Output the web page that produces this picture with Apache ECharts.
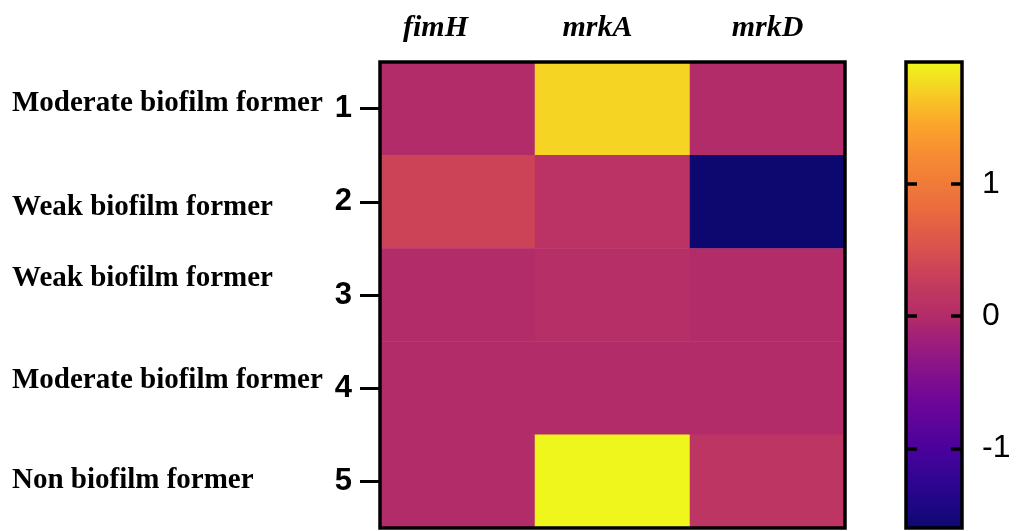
<!DOCTYPE html>
<html>
<head>
<meta charset="utf-8">
<script src="https://cdn.jsdelivr.net/npm/echarts@6/dist/echarts.min.js"></script>
<style>html,body{margin:0;padding:0;background:#fff;}#c{width:1016px;height:531px;}</style>
</head>
<body>
<div id="c"></div>
<script>
// ---- data ----
var genes = ['fimH', 'mrkA', 'mrkD'];
var isolates = ['1', '2', '3', '4', '5'];
var groups = ['Moderate biofilm former', 'Weak biofilm former', 'Weak biofilm former', 'Moderate biofilm former', 'Non biofilm former'];
var fimH = [0.0, 0.35, 0.0, 0.0, 0.0];
var mrkA = [1.72, 0.12, 0.05, 0.0, 1.92];
var mrkD = [0.0, -1.6, 0.0, 0.0, 0.15];
var scaleMin = -1.6, scaleMax = 1.92;
var colorTicks = [-1, 0, 1];

// ---- colour ramp (style) ----
var stops = [
  [-1.6, '#0d0870'], [-1.45, '#1c0782'], [-1.28, '#2c0590'], [-1.0, '#4a029c'], [-0.64, '#6e0698'],
  [-0.36, '#8b1488'], [-0.1, '#a82472'], [0, '#b32c69'], [0.26, '#c43c5e'],
  [0.5, '#d9504f'], [0.8, '#ea6a3e'], [1.2, '#f68a33'], [1.45, '#fba52c'],
  [1.7, '#f6d024'], [1.92, '#eef61c']
];
function hex2rgb(h){return [parseInt(h.substr(1,2),16),parseInt(h.substr(3,2),16),parseInt(h.substr(5,2),16)];}
function colorAt(v){
  for (var i=0;i<stops.length-1;i++){
    if (v<=stops[i+1][0]){
      var t=(v-stops[i][0])/(stops[i+1][0]-stops[i][0]);
      var a=hex2rgb(stops[i][1]), b=hex2rgb(stops[i+1][1]);
      return 'rgb('+[0,1,2].map(function(k){return Math.round(a[k]+(b[k]-a[k])*t);}).join(',')+')';
    }
  }
  return stops[stops.length-1][1];
}
var ramp=[]; var N=80;
for (var i=0;i<=N;i++){ramp.push(colorAt(scaleMin+(scaleMax-scaleMin)*i/N));}

var data=[];
var cols=[fimH,mrkA,mrkD];
cols.forEach(function(arr,x){arr.forEach(function(v,y){data.push([x,y,v]);});});

// per-label vertical nudges for group names (px)
var nameShift=[-5,6,-16,-8,-1];
var rich={};
nameShift.forEach(function(d,i){
  rich['g'+i]={fontFamily:'Liberation Serif',fontWeight:'bold',fontSize:29,color:'#000',
    padding:d>=0?[2*d,0,0,0]:[0,0,-2*d,0]};
});
var geneShift=[-22,-15,0];
var grich={};
geneShift.forEach(function(d,i){
  grich['c'+i]={fontFamily:'Liberation Serif',fontWeight:'bold',fontStyle:'italic',fontSize:30,color:'#000',
    padding:[0,-2*d,0,0]};
});

var tickStyle={color:'#000',width:3.5};
var chart=echarts.init(document.getElementById('c'));
chart.setOption({
  animation:false,
  backgroundColor:'#fff',
  grid:[
    {left:380,top:62,width:465,height:466,show:true,borderColor:'#000',borderWidth:3.5,z:10,backgroundColor:'transparent'},
    {left:906,top:62,width:56,height:466,show:true,borderColor:'#000',borderWidth:3.5,z:10,backgroundColor:'transparent'}
  ],
  xAxis:[
    {type:'category',data:genes,gridIndex:0,position:'top',
     axisLine:{show:false},axisTick:{show:false},splitLine:{show:false},
     axisLabel:{margin:19,formatter:function(v,i){return '{c'+i+'|'+v+'}';},rich:grich}},
    {type:'value',gridIndex:1,show:false,min:0,max:1}
  ],
  yAxis:[
    {type:'category',data:isolates,gridIndex:0,inverse:true,position:'left',
     axisLine:{show:false},
     axisTick:{show:true,alignWithLabel:true,length:20,lineStyle:{color:'#000',width:3}},
     axisLabel:{margin:28,fontFamily:'Liberation Sans',fontWeight:'bold',fontSize:31,color:'#000'},
     splitLine:{show:false}},
    {type:'category',data:groups,gridIndex:0,inverse:true,position:'left',
     axisLine:{show:false},axisTick:{show:false},splitLine:{show:false},
     axisLabel:{margin:368,align:'left',formatter:function(v,i){return '{g'+i+'|'+v+'}';},rich:rich}},
    // colour bar: labels on the right
    {type:'value',gridIndex:1,position:'right',min:scaleMin,max:scaleMax,z:20,
     axisLine:{show:false},splitLine:{show:false},axisTick:{show:false},
     axisLabel:{show:true,margin:20,customValues:colorTicks,fontFamily:'Liberation Sans',fontSize:32,color:'#000'}},
    // colour bar: inner ticks on the left edge
    {type:'value',gridIndex:1,position:'left',min:scaleMin,max:scaleMax,z:20,
     axisLine:{show:false},splitLine:{show:false},
     axisTick:{show:true,inside:true,length:11,customValues:colorTicks,lineStyle:tickStyle},
     axisLabel:{show:false}},
    // colour bar: inner ticks on the right edge (left-type axis shifted onto the right edge)
    {type:'value',gridIndex:1,position:'left',offset:-56,min:scaleMin,max:scaleMax,z:20,
     axisLine:{show:false},splitLine:{show:false},
     axisTick:{show:true,inside:false,length:11,customValues:colorTicks,lineStyle:tickStyle},
     axisLabel:{show:false}}
  ],
  visualMap:{
    type:'continuous',min:scaleMin,max:scaleMax,seriesIndex:0,calculable:false,
    orient:'vertical',left:906,top:62,itemWidth:56,itemHeight:466,padding:0,z:2,
    showLabel:false,inRange:{color:ramp}
  },
  series:[{
    type:'heatmap',xAxisIndex:0,yAxisIndex:0,data:data,
    itemStyle:{borderWidth:0},emphasis:{disabled:true}
  }]
});
</script>
</body>
</html>
